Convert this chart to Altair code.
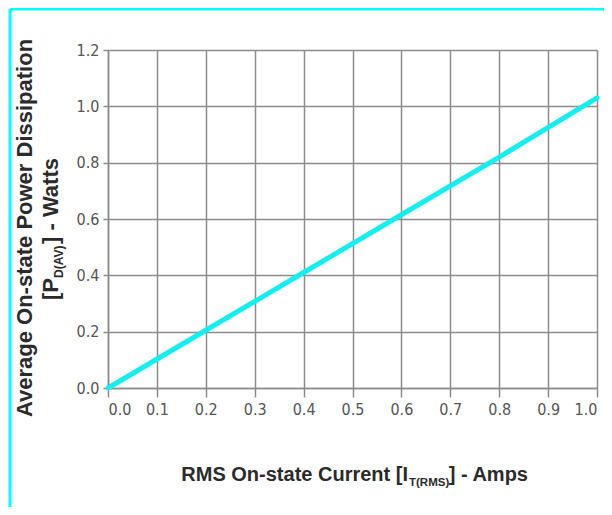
import altair as alt
import pandas as pd

# Data
current = [0.0, 0.2, 0.4, 0.6, 0.8, 1.0]
power = [0.0, 0.205, 0.41, 0.615, 0.82, 1.03]
x_ticks = [0.0, 0.1, 0.2, 0.3, 0.4, 0.5, 0.6, 0.7, 0.8, 0.9, 1.0]
y_ticks = [0.0, 0.2, 0.4, 0.6, 0.8, 1.0, 1.2]

df = pd.DataFrame({"current": current, "power": power})

GRID = "#8c8c8c"
CYAN = "#14EEEE"
TICKFONT = "Liberation Sans Narrow, Arial Narrow, DejaVu Sans Condensed, sans-serif"
TITLEFONT = "Liberation Sans, Arial, sans-serif"
TXT = "#2b2b2b"

W, H = 489, 338

line = alt.Chart(df).mark_line(color=CYAN, strokeWidth=5, strokeCap="round").encode(
    x=alt.X("current:Q",
            scale=alt.Scale(domain=[0, 1.0], nice=False),
            axis=alt.Axis(values=x_ticks, format=".1f", grid=True, title="",
                          gridColor=GRID, gridWidth=1.5, domainColor=GRID, domainWidth=1.5,
                          tickColor=GRID, tickWidth=1.5, tickSize=9,
                          labelFont=TICKFONT, labelFontSize=16, labelColor="#555555",
                          labelPadding=4)),
    y=alt.Y("power:Q",
            scale=alt.Scale(domain=[0, 1.2], nice=False),
            axis=alt.Axis(values=y_ticks, format=".1f", grid=True, title="",
                          gridColor=GRID, gridWidth=1.5, domainColor=GRID, domainWidth=1.5,
                          tickColor=GRID, tickWidth=1.5, tickSize=5,
                          labelFont=TICKFONT, labelFontSize=16, labelColor="#555555",
                          labelPadding=4)),
)


def txt(s, x, y, size, align, angle=0, font=TITLEFONT):
    d = pd.DataFrame({"label": [s]})
    kw = dict(fontSize=size, fontWeight="bold", font=font, color=TXT, align=align,
              baseline="alphabetic")
    if angle:
        kw["angle"] = angle
    return alt.Chart(d).mark_text(**kw).encode(
        text="label:N", x=alt.value(x), y=alt.value(y))


# X title with subscript
xt_main = txt("RMS On-state Current [I", 300, 431, 20, "right")
xt_sub = txt("T(RMS)", 301, 436, 11.5, "left")
xt_end = txt("] - Amps", 420, 431, 20, "right")

# Y title (two lines, rotated)
yt_line1 = txt("Average On-state Power Dissipation", -76, 178, 22, "center", 270)
yt_p = txt("[P", -50, 250, 22, "left", 270)
yt_sub = txt("D(AV)", -45, 228, 12, "left", 270)
yt_end = txt("] - Watts", -50, 108, 22, "right", 270)

# Cyan frame
frame_df = pd.DataFrame({"k": [0]})
frame_top = alt.Chart(frame_df).mark_rule(color="#00FFFF", strokeWidth=3).encode(
    x=alt.value(-98), x2=alt.value(496), y=alt.value(-41))
frame_left = alt.Chart(frame_df).mark_rule(color="#00FFFF", strokeWidth=3).encode(
    x=alt.value(-98), y=alt.value(-41), y2=alt.value(460))

chart = alt.layer(
    line, xt_main, xt_sub, xt_end, yt_line1, yt_p, yt_sub, yt_end, frame_top, frame_left
).properties(
    width=W, height=H,
    autosize=alt.AutoSizeParams(type="none"),
    padding={"left": 100, "top": 42, "right": 7, "bottom": 119},
    background="white",
).configure_view(stroke="transparent")

chart.save("out.html", embed_options={"renderer": "svg", "actions": False})
